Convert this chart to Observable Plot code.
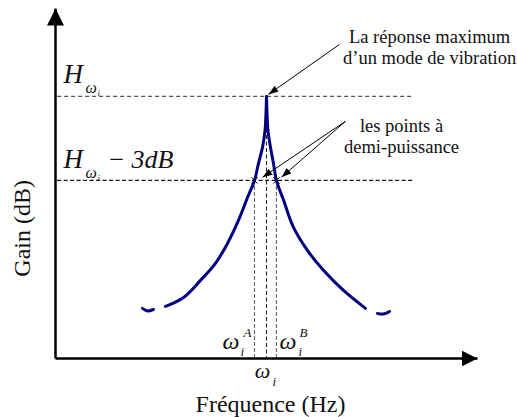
<!DOCTYPE html>
<html>
<head>
<meta charset="utf-8">
<script src="https://cdn.jsdelivr.net/npm/d3@7"></script>
<script src="https://cdn.jsdelivr.net/npm/@observablehq/plot@0.6"></script>
<style>
  body { margin: 0; background: #fff; }
  #chart svg { display: block; }
</style>
</head>
<body>
<div id="chart"></div>
<script>
// Resonance curve of one vibration mode.
// Frequency is normalised so that ω_i = 1; gain is in dB relative to the peak H_ωi.
const leftFreq  = [0.521, 0.607, 0.687, 0.758, 0.815, 0.867, 0.910, 0.943, 0.962, 0.981, 0.993, 0.998, 1.000];
const leftGain  = [-7.50, -7.18, -6.57, -5.96, -5.25, -4.43, -3.61, -3.00, -2.39, -1.82, -1.21, -0.50, 0];
const rightFreq = [1.000, 1.002, 1.007, 1.019, 1.033, 1.047, 1.081, 1.128, 1.194, 1.270, 1.365, 1.469];
const rightGain = [0, -0.50, -1.21, -1.82, -2.39, -3.00, -3.71, -4.68, -5.50, -6.21, -6.93, -7.57];

// short detached tails at both ends of the curve
const tailLeftFreq  = [0.412, 0.436, 0.464];
const tailLeftGain  = [-7.57, -7.66, -7.61];
const tailRightFreq = [1.526, 1.555, 1.583];
const tailRightGain = [-7.75, -7.77, -7.68];

// key points
const peakFreq = 1.0;
const peakGain = 0;               // H_ωi
const halfPowerGain = -3;         // H_ωi − 3 dB
const halfPowerFreqs = [0.943, 1.047]; // ω_i^A, ω_i^B

// axis extents
const freqDomain = [0, 2];
const gainDomain = [-9.36, 3.14];
const guideEnd = 1.70;            // right end of the dashed reference levels

// annotation arrows: [fromFreq, fromGain, toFreq, toGain]
const peakArrow = [[1.346, 1.857, 1.009, 0.071]];
const halfPowerArrows = [
  [1.374, -0.89, 0.981, -2.89],
  [1.374, -0.89, 1.071, -2.89]
];

// annotation texts
const peakNote = "La réponse maximum\nd’un mode de vibration";
const halfPowerNote = "les points à\ndemi-puissance";
const xTitle = "Fréquence (Hz)";
const yTitle = "Gain (dB)";

const curve = [
  ...leftFreq.map((f, i) => ({f, g: leftGain[i], part: "left"})),
  ...rightFreq.map((f, i) => ({f, g: rightGain[i], part: "right"})),
  ...tailLeftFreq.map((f, i) => ({f, g: tailLeftGain[i], part: "tailL"})),
  ...tailRightFreq.map((f, i) => ({f, g: tailRightGain[i], part: "tailR"}))
];

// filled triangular arrowhead used as a line marker
function solidHead(length, width) {
  return (color) => {
    const m = d3.create("svg:marker")
      .attr("viewBox", `${-length} ${-width / 2} ${length} ${width}`)
      .attr("refX", 0)
      .attr("refY", 0)
      .attr("markerUnits", "userSpaceOnUse")
      .attr("markerWidth", length)
      .attr("markerHeight", width)
      .attr("orient", "auto")
      .attr("fill", color)
      .attr("stroke", "none");
    m.append("path").attr("d", `M0,0L${-length},${-width / 2}L${-length},${width / 2}Z`);
    return m.node();
  };
}

const serif = "'Liberation Serif', 'Times New Roman', serif";
const [gMin, gMax] = gainDomain;

// math-style label pieces (base, subscript, superscript) placed around a data point
function mathText(x, y, text, opts) {
  return Plot.text([0], {
    x: () => x, y: () => y, text: () => text,
    fontFamily: serif, fontStyle: "italic", lineAnchor: "bottom",
    fill: "#111", ...opts
  });
}

const chart = Plot.plot({
  width: 517,
  height: 417,
  marginLeft: 55,
  marginRight: 40,
  marginTop: 8,
  marginBottom: 59,
  style: {fontFamily: serif, background: "#fff", color: "#111"},
  x: {domain: freqDomain, axis: null},
  y: {domain: gainDomain, axis: null},
  marks: [
    // dashed reference levels
    Plot.ruleY([peakGain], {x1: 0.01, x2: guideEnd, stroke: "#555", strokeWidth: 1.1, strokeDasharray: "4,3"}),
    Plot.ruleY([halfPowerGain], {x1: 0.01, x2: guideEnd, stroke: "#111", strokeWidth: 1.1, strokeDasharray: "4,2.5"}),
    // dashed verticals at the half-power frequencies and the resonance
    Plot.ruleX(halfPowerFreqs, {y1: halfPowerGain, y2: gMin, stroke: "#666", strokeWidth: 1.1, strokeDasharray: "4,2"}),
    Plot.ruleX([peakFreq], {y1: peakGain, y2: gMin, stroke: "#222", strokeWidth: 1.1, strokeDasharray: "4,2.5"}),

    // resonance curve
    Plot.line(curve, {x: "f", y: "g", z: "part", curve: "catmull-rom", stroke: "#000080", strokeWidth: 3, strokeLinecap: "round"}),

    // half-power crossings
    Plot.dot(halfPowerFreqs, {x: d => d, y: () => halfPowerGain, symbol: "times", r: 3, stroke: "#111", strokeWidth: 1}),

    // axes with filled arrowheads
    Plot.link([0], {x1: () => freqDomain[0], y1: () => gMin, x2: () => freqDomain[0], y2: () => gMax,
      stroke: "#000", strokeWidth: 2.5, markerEnd: solidHead(17, 17)}),
    Plot.link([0], {x1: () => freqDomain[0], y1: () => gMin, x2: () => freqDomain[1], y2: () => gMin,
      stroke: "#000", strokeWidth: 2.5, markerEnd: solidHead(16, 16)}),

    // annotation arrows
    Plot.link(peakArrow, {x1: d => d[0], y1: d => d[1], x2: d => d[2], y2: d => d[3],
      stroke: "#000", strokeWidth: 1, markerEnd: solidHead(10, 7)}),
    Plot.link(halfPowerArrows, {x1: d => d[0], y1: d => d[1], x2: d => d[2], y2: d => d[3],
      stroke: "#000", strokeWidth: 1, markerEnd: solidHead(10, 7)}),

    // notes
    Plot.text([peakNote], {x: () => 1.773, y: () => 1.143, text: d => d, lineAnchor: "bottom",
      lineHeight: 1.14, fontSize: 18.5, fill: "#111"}),
    Plot.text([halfPowerNote], {x: () => 1.64, y: () => -2.036, text: d => d, lineAnchor: "bottom",
      lineHeight: 1.14, fontSize: 18.5, fill: "#111"}),

    // H_ωi
    mathText(0, peakGain, "H", {textAnchor: "start", dx: 8, dy: -13, fontSize: 27}),
    mathText(0, peakGain, "ω", {textAnchor: "start", dx: 30, dy: -3, fontSize: 16}),
    mathText(0, peakGain, "i", {textAnchor: "start", dx: 42, dy: 0, fontSize: 9}),
    // H_ωi − 3dB
    mathText(0, halfPowerGain, "H", {textAnchor: "start", dx: 8, dy: -12, fontSize: 27}),
    mathText(0, halfPowerGain, "ω", {textAnchor: "start", dx: 30, dy: -2, fontSize: 16}),
    mathText(0, halfPowerGain, "i", {textAnchor: "start", dx: 42, dy: 1, fontSize: 9}),
    mathText(0, halfPowerGain, "− 3dB", {textAnchor: "start", dx: 52, dy: -12, fontSize: 26}),

    // ω_i^A and ω_i^B
    mathText(halfPowerFreqs[0], gMin, "ω", {textAnchor: "end", dx: -15, dy: -10, fontSize: 24}),
    mathText(halfPowerFreqs[0], gMin, "A", {textAnchor: "start", dx: -11, dy: -22, fontSize: 13}),
    mathText(halfPowerFreqs[0], gMin, "i", {textAnchor: "start", dx: -14, dy: -3, fontSize: 13}),
    mathText(halfPowerFreqs[1], gMin, "ω", {textAnchor: "start", dx: 3, dy: -10, fontSize: 24}),
    mathText(halfPowerFreqs[1], gMin, "B", {textAnchor: "start", dx: 23, dy: -22, fontSize: 13}),
    mathText(halfPowerFreqs[1], gMin, "i", {textAnchor: "start", dx: 22, dy: -3, fontSize: 13}),
    // ω_i under the axis
    mathText(peakFreq, gMin, "ω", {textAnchor: "middle", dx: -4, dy: 19, fontSize: 22}),
    mathText(peakFreq, gMin, "i", {textAnchor: "start", dx: 6, dy: 27, fontSize: 13}),

    // axis titles
    Plot.text([xTitle], {frameAnchor: "bottom", text: d => d, dx: 4, dy: 53, lineAnchor: "bottom",
      fontSize: 24, fill: "#111"}),
    // vertical title, centred beside the lower half of the gain axis
    Plot.text([yTitle], {x: () => freqDomain[0], y: () => -4.71, text: d => d, rotate: -90,
      dx: -33, lineAnchor: "middle", fontSize: 24, fill: "#111"})
  ]
});

document.getElementById("chart").append(chart);
</script>
</body>
</html>
